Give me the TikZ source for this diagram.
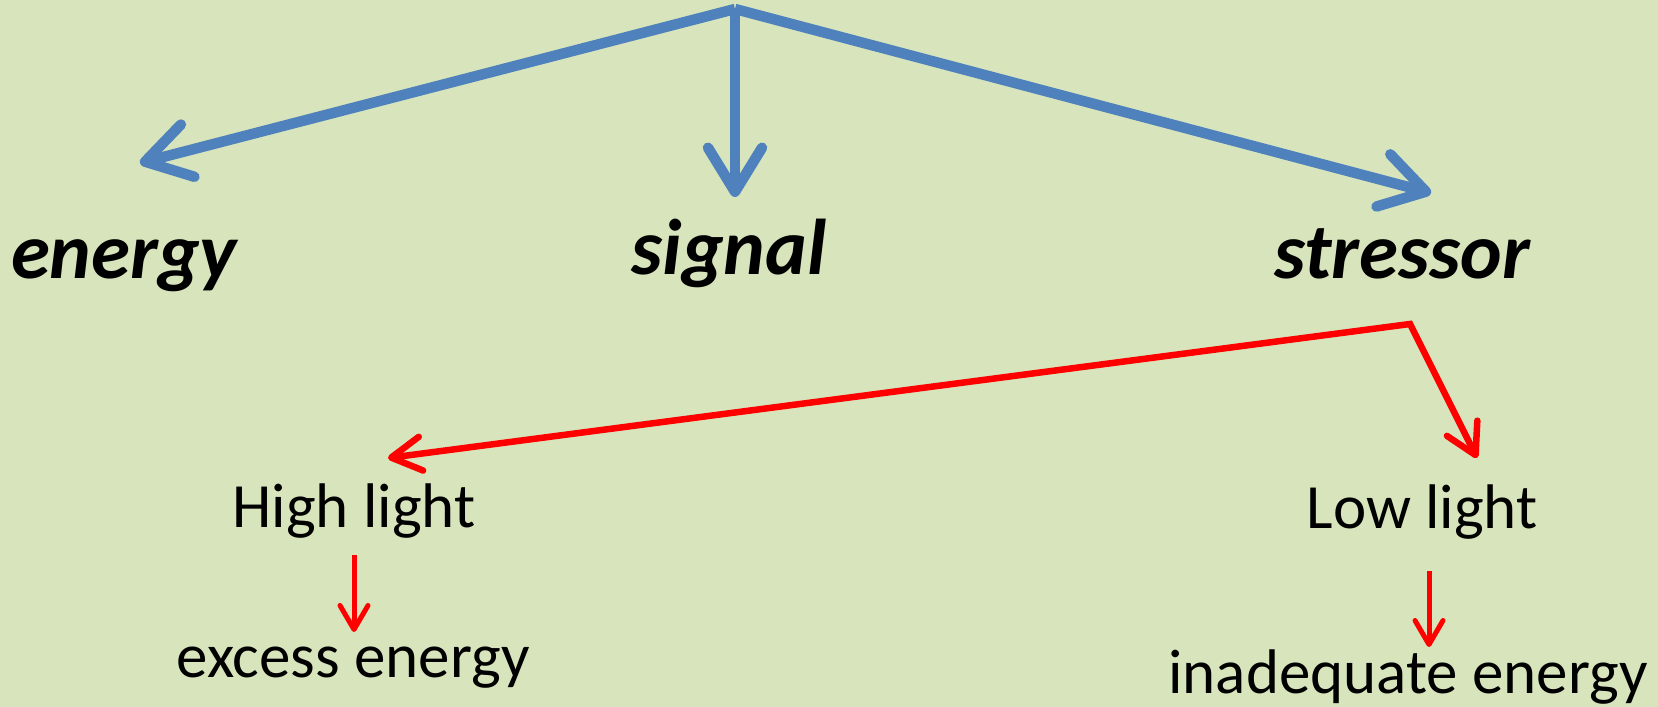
\documentclass[tikz,border=0pt]{standalone}
\usepackage{fontspec}
\setmainfont{Carlito}
\usetikzlibrary{arrows.meta}
\definecolor{bg}{HTML}{D8E4BC}
\definecolor{blu}{HTML}{4F81BD}
\definecolor{rd}{HTML}{FF0000}
\begin{document}
\begin{tikzpicture}[x=1pt,y=-1pt,
  bigword/.style={font=\fontsize{79}{90}\selectfont\bfseries\itshape, anchor=base, inner sep=0pt},
  smallword/.style={font=\fontsize{63}{75}\selectfont, anchor=base, inner sep=0pt},
  bluearrow/.style={draw=blu, line width=10.5pt, -{Straight Barb[length=44pt,width=54pt,round]}},
  redsplit/.style={draw=rd, line width=6.5pt, {Straight Barb[length=30pt,width=34pt,round]}-{Straight Barb[length=30pt,width=34pt,round]}},
  redsmall/.style={draw=rd, line width=5pt, -{Straight Barb[length=24pt,width=28pt,round]}}
]
\fill[bg] (0,0) rectangle (1658,707);
\useasboundingbox (0,0) rectangle (1658,707);

% top-level words
\node[bigword] (energy) at (124,278) {energy};
\node[bigword] (signal) at (729,274) {signal};
\node[bigword] (stressor) at (1402,278) {stressor};

% lower words
\node[smallword] (high) at (354,527) {High light};
\node[smallword] (low) at (1422,528) {Low light};
\node[smallword] (excess) at (353,677) {excess energy};
\node[smallword] (inadequate) at (1408,693) {inadequate energy};

% connector end points
\coordinate (apex) at (735,9);
\coordinate (eTip) at (140,163);
\coordinate (sTip) at (735,197);
\coordinate (stTip) at (1431,193);
\coordinate (corner) at (1410,324);
\coordinate (hTip) at (388,458);
\coordinate (lTip) at (1477,458);
\coordinate (hA) at (354,555);
\coordinate (hB) at (354,632);
\coordinate (lA) at (1429,571);
\coordinate (lB) at (1429,647);

\draw[bluearrow] (apex) -- (eTip);
\draw[bluearrow] (apex) -- (sTip);
\draw[bluearrow] (apex) -- (stTip);

\draw[redsplit] (hTip) -- (corner) -- (lTip);
\draw[redsmall] (hA) -- (hB);
\draw[redsmall] (lA) -- (lB);
\end{tikzpicture}
\end{document}
